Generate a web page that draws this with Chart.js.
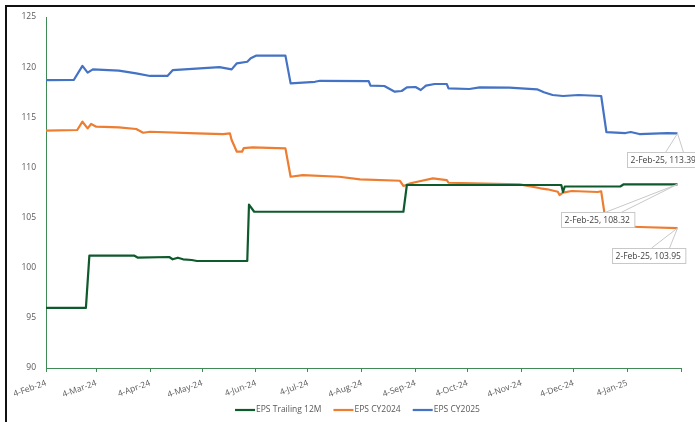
<!DOCTYPE html>
<html>
<head>
<meta charset="utf-8">
<script src="https://cdn.jsdelivr.net/npm/chart.js@4.4.1/dist/chart.umd.min.js"></script>
<style>
  html, body { margin: 0; padding: 0; background: #fff; }
  #wrap { position: relative; width: 695px; height: 422px; overflow: hidden; }
  #frame { position: absolute; left: 5px; top: 5px; width: 700px; height: 430px;
           border-left: 2px solid #111; border-top: 2px solid #111; pointer-events: none; }
</style>
</head>
<body>
<div id="wrap">
  <canvas id="c" width="695" height="422"></canvas>
  <div id="frame"></div>
</div>
<script>
// EPS estimates, daily history (dates in ISO form)
const trailingDates = ['2024-02-04','2024-02-27','2024-02-29','2024-03-26','2024-03-28','2024-04-15','2024-04-17','2024-04-20','2024-04-23','2024-04-28','2024-05-01','2024-05-30','2024-05-31','2024-06-03','2024-08-28','2024-08-30','2024-11-27','2024-11-28','2024-11-29','2024-12-31','2025-01-02','2025-02-02'];
const trailingValues = [96.00,96.00,101.20,101.20,101.00,101.07,100.84,101.00,100.84,100.77,100.67,100.67,106.30,105.58,105.58,108.25,108.25,107.55,108.10,108.10,108.32,108.32];

const cy2024Dates = ['2024-02-04','2024-02-22','2024-02-25','2024-02-28','2024-03-01','2024-03-04','2024-03-17','2024-03-27','2024-03-31','2024-04-04','2024-05-01','2024-05-16','2024-05-20','2024-05-21','2024-05-24','2024-05-27','2024-05-28','2024-06-02','2024-06-21','2024-06-24','2024-07-01','2024-07-22','2024-08-03','2024-08-26','2024-08-28','2024-09-01','2024-09-05','2024-09-14','2024-09-22','2024-09-23','2024-11-03','2024-11-15','2024-11-19','2024-11-25','2024-11-26','2024-11-28','2024-12-03','2024-12-18','2024-12-20','2024-12-23','2025-01-11','2025-02-02'];
const cy2024Values = [113.66,113.73,114.56,113.90,114.33,114.06,114.00,113.83,113.46,113.56,113.40,113.33,113.40,112.73,111.57,111.57,111.93,112.00,111.90,109.07,109.24,109.07,108.81,108.67,108.15,108.41,108.57,108.91,108.74,108.47,108.31,107.92,107.82,107.58,107.25,107.48,107.65,107.55,107.62,104.16,104.06,103.95];

const cy2025Dates = ['2024-02-04','2024-02-20','2024-02-25','2024-02-28','2024-03-02','2024-03-17','2024-03-27','2024-04-04','2024-04-14','2024-04-17','2024-05-14','2024-05-21','2024-05-24','2024-05-30','2024-06-01','2024-06-04','2024-06-21','2024-06-24','2024-07-08','2024-07-11','2024-08-08','2024-08-09','2024-08-17','2024-08-23','2024-08-27','2024-08-30','2024-09-04','2024-09-07','2024-09-10','2024-09-15','2024-09-22','2024-09-23','2024-10-05','2024-10-11','2024-10-28','2024-11-13','2024-11-17','2024-11-22','2024-11-28','2024-12-07','2024-12-20','2024-12-23','2025-01-03','2025-01-06','2025-01-11','2025-01-27','2025-02-02'];
const cy2025Values = [118.70,118.72,120.12,119.45,119.78,119.65,119.38,119.12,119.12,119.70,120.00,119.78,120.38,120.54,120.88,121.14,121.15,118.38,118.54,118.64,118.61,118.15,118.12,117.55,117.62,117.99,118.02,117.72,118.15,118.32,118.32,117.89,117.82,117.99,117.95,117.79,117.49,117.22,117.12,117.22,117.12,113.53,113.43,113.53,113.33,113.43,113.39];

const tickDates = ['2024-02-04','2024-03-04','2024-04-04','2024-05-04','2024-06-04','2024-07-04','2024-08-04','2024-09-04','2024-10-04','2024-11-04','2024-12-04','2025-01-04','2025-02-04'];
const tickLabels = ['4-Feb-24','4-Mar-24','4-Apr-24','4-May-24','4-Jun-24','4-Jul-24','4-Aug-24','4-Sep-24','4-Oct-24','4-Nov-24','4-Dec-24','4-Jan-25',''];
const seriesNames = ['EPS Trailing 12M','EPS CY2024','EPS CY2025'];

const MONTHS = ['Jan','Feb','Mar','Apr','May','Jun','Jul','Aug','Sep','Oct','Nov','Dec'];
const ORIGIN = Date.UTC(2024, 1, 4);
function dayOf(iso) {
  const [y, m, d] = iso.split('-').map(Number);
  return (Date.UTC(y, m - 1, d) - ORIGIN) / 86400000;
}
function shortDate(iso) {
  const [y, m, d] = iso.split('-').map(Number);
  return d + '-' + MONTHS[m - 1] + '-' + String(y).slice(2);
}
function points(dates, values) {
  return dates.map((d, i) => ({ x: dayOf(d), y: values[i], date: d }));
}

const FONT = "'Open Sans', 'Noto Sans', sans-serif";
const AXIS = '#3f8a55';
const TEXT = '#595959';

// Callout label on the last point of each series
const callouts = {
  id: 'callouts',
  afterDatasetsDraw(chart) {
    const ctx = chart.ctx;
    chart.data.datasets.forEach((ds, i) => {
      const meta = chart.getDatasetMeta(i);
      const el = meta.data[meta.data.length - 1];
      const pt = ds.data[ds.data.length - 1];
      const c = ds.callout;
      const px = el.x, py = el.y;
      const text = shortDate(pt.date) + ', ' + pt.y.toFixed(2);
      ctx.save();
      ctx.font = '8.5px ' + FONT;
      const w = ctx.measureText(text).width + 8;
      const h = 15;
      const bx = px + c.dx, by = py + c.dy;
      ctx.strokeStyle = '#c8c8c8';
      ctx.lineWidth = 1;
      ctx.beginPath();
      ctx.moveTo(px, py);
      ctx.lineTo(px + c.w1, by);
      ctx.moveTo(px, py);
      ctx.lineTo(px + c.w2, by);
      ctx.stroke();
      ctx.fillStyle = '#fff';
      ctx.fillRect(Math.round(bx) + 0.5, Math.round(by) + 0.5, w, h);
      ctx.strokeRect(Math.round(bx) + 0.5, Math.round(by) + 0.5, w, h);
      ctx.fillStyle = '#404040';
      ctx.textBaseline = 'middle';
      ctx.textAlign = 'left';
      ctx.fillText(text, bx + 4, by + h / 2 + 1);
      ctx.restore();
    });
  }
};

// Compact legend row under the axis: short line swatch followed by the series name
const lineLegend = {
  id: 'lineLegend',
  afterDraw(chart) {
    const ctx = chart.ctx;
    const sw = 20, gap = 1, itemGap = 12;
    ctx.save();
    ctx.font = '8.5px ' + FONT;
    const items = chart.data.datasets.map(ds => ({ ds, tw: ctx.measureText(ds.label).width }));
    const total = items.reduce((s, it) => s + sw + gap + it.tw, 0) + itemGap * (items.length - 1);
    const area = chart.chartArea;
    let x = (area.left + area.right) / 2 - 6 - total / 2;
    const y = chart.height - 12;
    items.forEach(it => {
      ctx.strokeStyle = it.ds.borderColor;
      ctx.lineWidth = it.ds.borderWidth;
      ctx.beginPath();
      ctx.moveTo(x, y);
      ctx.lineTo(x + sw, y);
      ctx.stroke();
      ctx.fillStyle = TEXT;
      ctx.textBaseline = 'middle';
      ctx.textAlign = 'left';
      ctx.fillText(it.ds.label, x + sw + gap, y);
      x += sw + gap + it.tw + itemGap;
    });
    ctx.restore();
  }
};

new Chart(document.getElementById('c'), {
  type: 'line',
  data: {
    datasets: [
      { label: seriesNames[0], data: points(trailingDates, trailingValues), borderColor: '#0e5a2c', backgroundColor: '#0e5a2c',
        borderWidth: 2.2, callout: { dx: -117, dy: 28, w1: -72, w2: -56 } },
      { label: seriesNames[1], data: points(cy2024Dates, cy2024Values), borderColor: '#ed7d31', backgroundColor: '#ed7d31',
        borderWidth: 2.2, callout: { dx: -66, dy: 20, w1: -26, w2: -8 } },
      { label: seriesNames[2], data: points(cy2025Dates, cy2025Values), borderColor: '#4472c4', backgroundColor: '#4472c4',
        borderWidth: 2.2, callout: { dx: -51, dy: 19, w1: -12, w2: 6 } }
    ]
  },
  options: {
    responsive: false,
    animation: false,
    devicePixelRatio: 1,
    layout: { padding: { top: 17, right: 14, bottom: 20, left: 0 } },
    elements: { point: { radius: 0 }, line: { tension: 0, borderJoinStyle: 'round' } },
    scales: {
      x: {
        type: 'linear',
        min: dayOf(tickDates[0]),
        max: dayOf(tickDates[tickDates.length - 1]),
        afterBuildTicks(scale) { scale.ticks = tickDates.map(d => ({ value: dayOf(d) })); },
        afterFit(scale) { scale.height = 34; },
        ticks: {
          autoSkip: false, minRotation: 20, maxRotation: 20, padding: 6,
          color: TEXT, font: { family: FONT, size: 8.5 },
          callback(value, index) { return tickLabels[index]; }
        },
        grid: { display: true, drawOnChartArea: false, drawTicks: true, tickLength: 4, tickColor: AXIS, color: AXIS },
        border: { display: true, color: AXIS, width: 1 }
      },
      y: {
        min: 90, max: 125,
        afterFit(scale) { scale.width = 46; },
        ticks: { stepSize: 5, padding: 10, color: TEXT, font: { family: FONT, size: 8.5 } },
        grid: { display: false, drawTicks: false },
        border: { display: true, color: AXIS, width: 1 }
      }
    },
    plugins: {
      legend: { display: false },
      tooltip: { enabled: false }
    }
  },
  plugins: [callouts, lineLegend]
});
</script>
</body>
</html>
